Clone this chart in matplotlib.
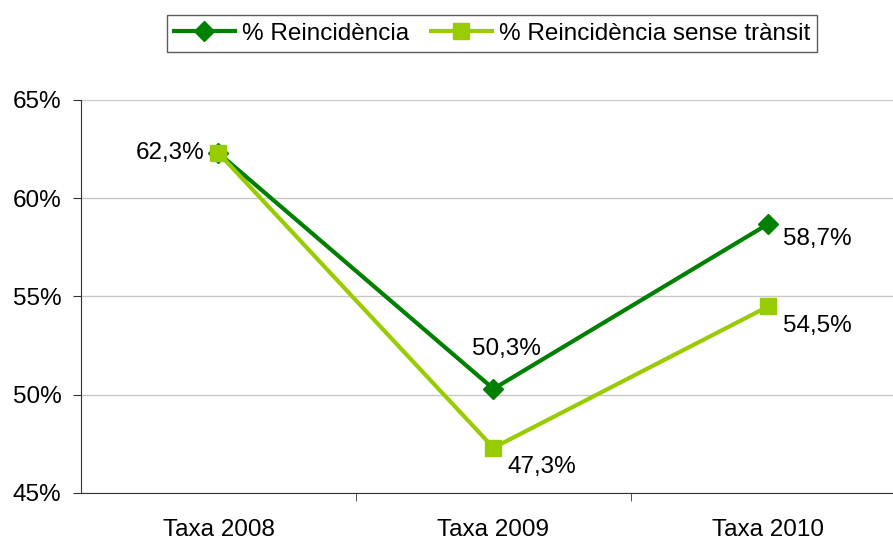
import numpy as np
import matplotlib.pyplot as plt

plt.rcParams['font.family'] = ['Liberation Sans', 'DejaVu Sans']

# Dades

categories = ["Taxa 2008", "Taxa 2009", "Taxa 2010"]
reinc = [62.3, 50.3, 58.7]
reinc_st = [62.3, 47.3, 54.5]
lab_reinc = ["62,3%", "50,3%", "58,7%"]
lab_st = ["", "47,3%", "54,5%"]

verd = "#008000"
verd_clar = "#99CC00"
fs = 17.5

fig = plt.figure(figsize=(8.93, 5.40), dpi=100)
ax = fig.add_axes([81 / 893, 47 / 540, 812 / 893, 393 / 540])

x = np.arange(len(categories))

ax.plot(x, reinc, color=verd, lw=3, marker="D", ms=10, label="% Reincidència", zorder=3)
ax.plot(x, reinc_st, color=verd_clar, lw=3, marker="s", ms=12, label="% Reincidència sense trànsit", zorder=4)

# Etiquetes
offs_r = [(-35, 0), (9, 29), (35, -11)]
offs_s = [(0, 0), (35, -14), (35, -14)]
for i in range(len(x)):
    ax.annotate(lab_reinc[i], (x[i], reinc[i]), xytext=offs_r[i], textcoords="offset points",
                ha="center", va="center", fontsize=fs, zorder=5)
    if lab_st[i]:
        ax.annotate(lab_st[i], (x[i], reinc_st[i]), xytext=offs_s[i], textcoords="offset points",
                    ha="center", va="center", fontsize=fs, zorder=5)

ax.set_xlim(-0.5, 2.453)
ax.set_ylim(45, 65)
ax.set_yticks([45, 50, 55, 60, 65])
ax.set_yticklabels(["45%", "50%", "55%", "60%", "65%"], fontsize=fs)
ax.set_xticks(x)
ax.set_xticklabels(categories, fontsize=fs)
ax.set_xticks([0.5, 1.5], minor=True)
ax.tick_params(axis="x", which="major", length=0, pad=19)
ax.tick_params(axis="x", which="minor", length=6, color="#333333")
ax.tick_params(axis="y", length=6, color="#333333", pad=8)

ax.grid(axis="y", color="#c8c8c8", lw=1)
ax.set_axisbelow(True)
for s in ["top", "right"]:
    ax.spines[s].set_visible(False)
ax.spines["left"].set_color("#333333")
ax.spines["bottom"].set_color("#333333")

leg = fig.legend(loc="center", bbox_to_anchor=(492 / 893, 1 - 33.5 / 540), ncol=2, fontsize=fs,
                 frameon=True, fancybox=False, edgecolor="#333333", handlelength=2.5,
                 handletextpad=0.3, columnspacing=0.9, borderpad=0.3, numpoints=1)
leg.get_frame().set_linewidth(1)

fig.savefig("out.png", dpi=100)
